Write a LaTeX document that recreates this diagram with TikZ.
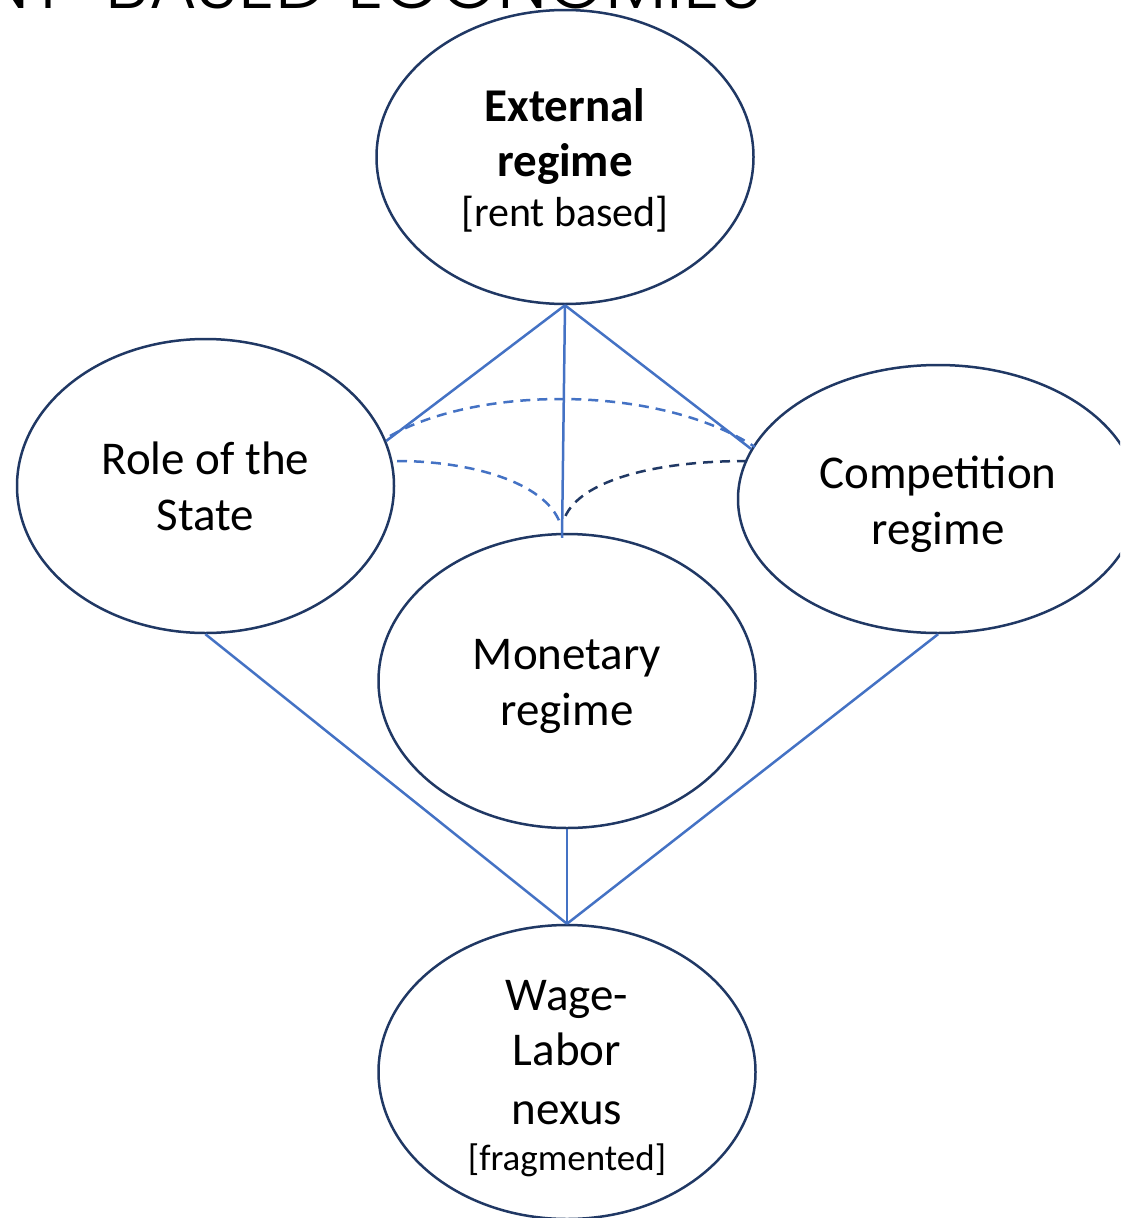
\documentclass[tikz,border=0pt]{standalone}
\usepackage{fontspec}
\setmainfont{Carlito}
\newfontfamily\titlefont{Poppins}[UprightFont={* Light}]
\usetikzlibrary{shapes.geometric,calc}

\definecolor{navy}{HTML}{203864}
\definecolor{linkblue}{HTML}{4472C4}

\tikzset{
  field/.style={draw=navy, line width=2.5pt, ellipse, inner sep=0pt,
    minimum width=377pt, minimum height=294pt},
  caption/.style={align=center, inner sep=0pt, font=\fontsize{47}{56}\selectfont},
  tie/.style={draw=linkblue, line width=2.5pt},
  tiedash/.style={line width=2.5pt, dash pattern=on 10pt off 7pt},
}

\begin{document}
\begin{tikzpicture}[x=1pt,y=-1pt]
  \useasboundingbox (0,0) rectangle (1120,1218);
  \clip (0,0) rectangle (1120,1218);

  % heading, partly above the page edge
  \node[anchor=base east, inner sep=0pt, font=\titlefont\fontsize{73}{73}\selectfont]
    (heading) at (762,9) {RENT-BASED ECONOMIES};

  % institutional forms
  \node[field] (ext) at (565,157) {};
  \node[field] (role) at (205.5,486) {};
  \node[field, minimum width=400pt, minimum height=268pt] (comp) at (938,499) {};
  \node[field] (mon) at (567,681) {};
  \node[field] (wage) at (567,1072) {};

  % their captions
  \node[caption] (ext-text) at ($(ext.center)+(0,3)$)
    {\textbf{External}\\[-1pt]\textbf{regime}\\[-6pt]{\fontsize{42}{42}\selectfont [rent based]}};
  \node[caption] (role-text) at (role.center) {Role of the\\State};
  \node[caption] (comp-text) at ($(comp.center)+(0,5)$) {Competition\\regime};
  \node[caption] (mon-text) at ($(mon.center)+(0,5)$) {Monetary\\regime};
  \node[caption] (wage-text) at ($(wage.center)+(0,7)$)
    {Wage-\\[-1pt]Labor\\[3pt]nexus\\[-10pt]{\fontsize{37}{37}\selectfont [fragmented]}};

  % links from the external regime
  \draw[tie] (ext.south) -- (role.14);
  \draw[tie] (ext.south) -- (comp.165);
  \coordinate (monin) at ($(mon.north)+(-5,5)$);
  \draw[tie] (ext.south) -- (monin);

  % links to the wage-labor nexus
  \draw[tie] (role.south) -- (wage.north);
  \draw[tie] (mon.south) -- (wage.north);
  \draw[tie] (comp.south) -- (wage.north);

  % dashed interactions
  \coordinate (ua) at (390,436);
  \coordinate (ub) at (755,447);
  \draw[tiedash, linkblue] (ua) .. controls (480,385) and (660,385) .. (ub);
  \coordinate (la) at (397,461);
  \coordinate (lb) at (560,523);
  \draw[tiedash, linkblue] (la) .. controls (470,461) and (545,482) .. (lb);
  \coordinate (ra) at (747,461);
  \coordinate (rb) at (565,517);
  \draw[tiedash, navy] (ra) .. controls (650,461) and (580,482) .. (rb);
\end{tikzpicture}
\end{document}
